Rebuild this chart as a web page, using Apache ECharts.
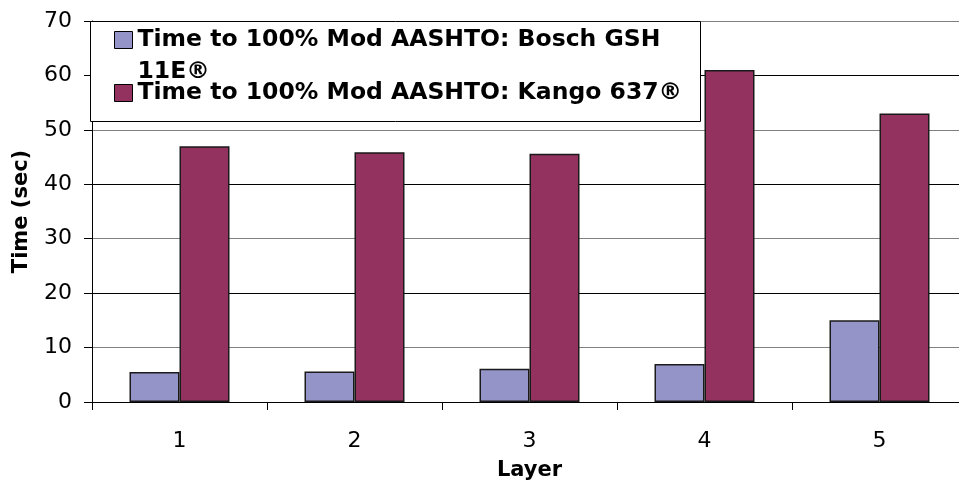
<!DOCTYPE html>
<html><head><meta charset="utf-8">
<script src="https://cdn.jsdelivr.net/npm/echarts@6/dist/echarts.min.js"></script>
<style>html,body{margin:0;padding:0;background:#fff}#c{width:959px;height:488px}</style>
</head><body><div id="c"></div>
<script>
const categories = ['1', '2', '3', '4', '5'];
const seriesNames = ['Time to 100% Mod AASHTO: Bosch GSH 11E®', 'Time to 100% Mod AASHTO: Kango 637®'];
const boschValues = [5.5, 5.6, 6.1, 7.0, 15.0];
const kangoValues = [47.0, 45.9, 45.6, 61.0, 53.0];
const yTicks = { min: 0, max: 70, interval: 10 };

const font = '"DejaVu Sans", Verdana, sans-serif';
const chart = echarts.init(document.getElementById('c'));
const legendText = { fontFamily: font, fontWeight: 'bold', fontSize: 23.5, color: '#000', lineHeight: 32 };
chart.setOption({
  animation: false,
  backgroundColor: '#fff',
  grid: { left: 92, top: 21, width: 875, height: 381, containLabel: false, outerBoundsMode: 'none' },
  graphic: [{
    type: 'rect', left: 90, top: 21, z: 90,
    shape: { width: 610, height: 100 },
    style: { fill: '#fff', stroke: '#000', lineWidth: 1 }
  }],
  legend: [{
    data: [seriesNames[0]], left: 114, top: -8, z: 100, padding: 0,
    itemWidth: 18, itemHeight: 17, icon: 'rect',
    itemStyle: { borderColor: '#000', borderWidth: 1 },
    formatter: n => '\n' + n.replace(' 11E', '\n11E'),
    textStyle: legendText
  }, {
    data: [seriesNames[1]], left: 114, top: 77, z: 100, padding: 0,
    itemWidth: 18, itemHeight: 17, icon: 'rect',
    itemStyle: { borderColor: '#000', borderWidth: 1 },
    textStyle: legendText
  }],
  xAxis: {
    type: 'category', data: categories,
    name: 'Layer', nameLocation: 'middle', nameGap: 58,
    nameTextStyle: { fontFamily: font, fontWeight: 'bold', fontSize: 21, color: '#000' },
    axisLine: { lineStyle: { color: '#000', width: 1 } },
    axisTick: { show: true, alignWithLabel: false, length: 8, lineStyle: { color: '#000' } },
    axisLabel: { fontFamily: font, fontSize: 22, color: '#000', margin: 28 },
    splitLine: { show: false }
  },
  yAxis: {
    type: 'value', min: yTicks.min, max: yTicks.max, interval: yTicks.interval,
    name: 'Time (sec)', nameLocation: 'middle', nameGap: 60,
    nameTextStyle: { fontFamily: font, fontWeight: 'bold', fontSize: 21, color: '#000' },
    axisLine: { show: true, lineStyle: { color: '#000', width: 1 } },
    axisTick: { show: true, length: 8, lineStyle: { color: '#000' } },
    axisLabel: { fontFamily: font, fontSize: 22, color: '#000', margin: 20 },
    splitLine: { show: true, lineStyle: { color: ['#000', '#808080'], width: 1 } }
  },
  series: [{
    name: seriesNames[0], type: 'bar', data: boschValues,
    barWidth: 50, barGap: '0%',
    itemStyle: { color: '#9494C8', borderColor: '#1a1a1a', borderWidth: 1.5 }
  }, {
    name: seriesNames[1], type: 'bar', data: kangoValues,
    barWidth: 50, barGap: '0%',
    itemStyle: { color: '#93325E', borderColor: '#1a1a1a', borderWidth: 1.5 }
  }]
});
</script></body></html>
